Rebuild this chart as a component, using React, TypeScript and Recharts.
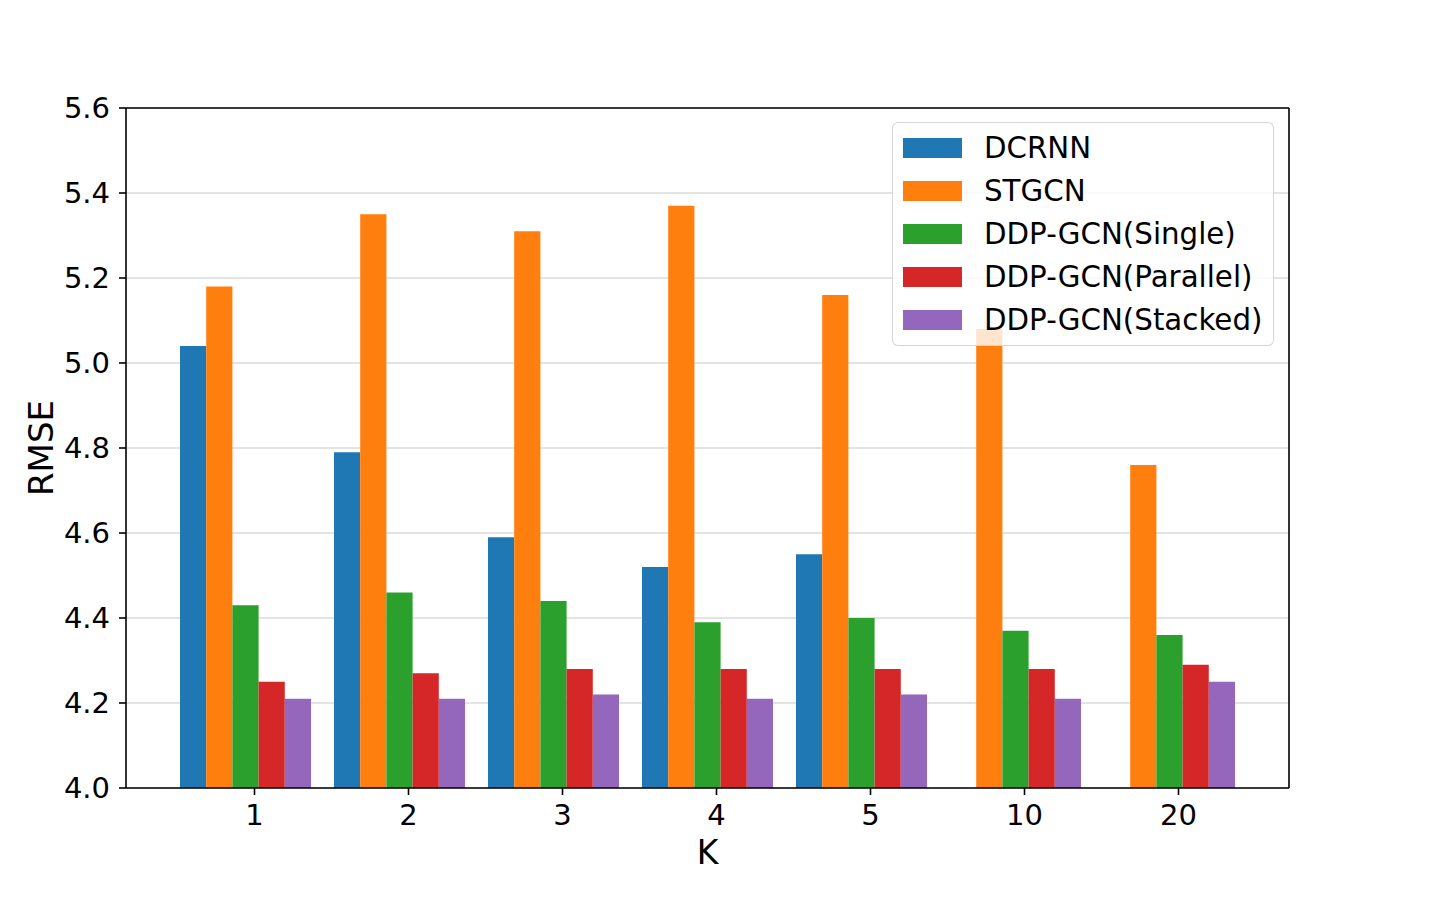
import {
  BarChart,
  Bar,
  XAxis,
  YAxis,
  CartesianGrid,
  Legend,
  Label,
} from "recharts";

const categories = ["1", "2", "3", "4", "5", "10", "20"];

const dcrnn = [5.04, 4.79, 4.59, 4.52, 4.55, null, null];
const stgcn = [5.18, 5.35, 5.31, 5.37, 5.16, 5.08, 4.76];
const ddpSingle = [4.43, 4.46, 4.44, 4.39, 4.4, 4.37, 4.36];
const ddpParallel = [4.25, 4.27, 4.28, 4.28, 4.28, 4.28, 4.29];
const ddpStacked = [4.21, 4.21, 4.22, 4.21, 4.22, 4.21, 4.25];

const yTicks = [4.0, 4.2, 4.4, 4.6, 4.8, 5.0, 5.2, 5.4, 5.6];

const series = [
  { key: "dcrnn", name: "DCRNN", values: dcrnn, color: "#1f77b4" },
  { key: "stgcn", name: "STGCN", values: stgcn, color: "#ff7f0e" },
  { key: "single", name: "DDP-GCN(Single)", values: ddpSingle, color: "#2ca02c" },
  { key: "parallel", name: "DDP-GCN(Parallel)", values: ddpParallel, color: "#d62728" },
  { key: "stacked", name: "DDP-GCN(Stacked)", values: ddpStacked, color: "#9467bd" },
];

const rows = categories.map((k, i) => {
  const row: Record<string, string | number | null> = { k };
  series.forEach((s) => {
    row[s.key] = s.values[i];
  });
  return row;
});

const FONT = "'DejaVu Sans', sans-serif";

// matplotlib puts the tick a bit right of the group centre
function XTick({ x, y, payload }: any) {
  const tx = x + 9.5;
  return (
    <g>
      <line x1={tx} x2={tx} y1={y} y2={y + 7} stroke="#000" strokeWidth={1.6} />
      <text
        x={tx}
        y={y + 37}
        textAnchor="middle"
        fontSize={29}
        fontFamily={FONT}
        fill="#000"
      >
        {payload.value}
      </text>
    </g>
  );
}

function YLabel({ viewBox }: any) {
  const cx = viewBox.x + 40.5;
  const cy = viewBox.y + viewBox.height / 2;
  return (
    <text
      x={cx}
      y={cy}
      transform={`rotate(-90 ${cx} ${cy})`}
      textAnchor="middle"
      dominantBaseline="central"
      fontSize={34}
      fontFamily={FONT}
      fill="#000"
    >
      RMSE
    </text>
  );
}

// keep the legend in series order, not the sorted payload order
function LegendBox() {
  return (
    <div
      style={{
        width: 382,
        height: 224,
        boxSizing: "border-box",
        border: "1.6px solid rgba(204,204,204,0.8)",
        borderRadius: 6,
        background: "rgba(255,255,255,0.8)",
        paddingTop: 3,
        fontFamily: FONT,
      }}
    >
      {series.map((s) => (
        <div
          key={s.key}
          style={{ height: 43, display: "flex", alignItems: "center" }}
        >
          <span
            style={{
              display: "inline-block",
              width: 59,
              height: 20,
              marginLeft: 10,
              background: s.color,
            }}
          />
          <span style={{ marginLeft: 22, fontSize: 29.3, color: "#000" }}>
            {s.name}
          </span>
        </div>
      ))}
    </div>
  );
}

export default function App() {
  return (
    <div
      style={{
        position: "absolute",
        left: 0,
        top: 0,
        width: 1439,
        height: 900,
        background: "#fff",
      }}
    >
      <BarChart
        width={1439}
        height={900}
        data={rows}
        margin={{ top: 107, right: 149, bottom: 0, left: 0 }}
        barGap={0}
        barSize={26.2}
      >
        <CartesianGrid vertical={false} stroke="#dadada" strokeWidth={1.6} />
        <XAxis
          dataKey="k"
          height={112}
          padding={{ left: 42, right: 43 }}
          axisLine={{ stroke: "#000", strokeWidth: 1.6 }}
          tickLine={false}
          tickSize={0}
          tickMargin={0}
          tick={<XTick />}
          interval={0}
        >
          <Label
            value="K"
            position="insideBottom"
            offset={36}
            fontSize={33}
            fontFamily={FONT}
            fill="#000"
          />
        </XAxis>
        <XAxis
          xAxisId="top"
          orientation="top"
          dataKey="k"
          height={1}
          tick={false}
          tickLine={false}
          axisLine={{ stroke: "#000", strokeWidth: 1.6 }}
        />
        <YAxis
          width={126}
          domain={[4, 5.6]}
          ticks={yTicks}
          tickFormatter={(v: number) => v.toFixed(1)}
          tickSize={7}
          tickMargin={9}
          tick={{ fontSize: 29, fontFamily: FONT, fill: "#000" }}
          tickLine={{ stroke: "#000", strokeWidth: 1.6 }}
          axisLine={{ stroke: "#000", strokeWidth: 1.6 }}
        >
          <Label content={<YLabel />} />
        </YAxis>
        <YAxis
          yAxisId="right"
          orientation="right"
          width={1}
          domain={[4, 5.6]}
          tick={false}
          tickLine={false}
          axisLine={{ stroke: "#000", strokeWidth: 1.6 }}
        />
        {series.map((s) => (
          <Bar
            key={s.key}
            dataKey={s.key}
            name={s.name}
            fill={s.color}
            isAnimationActive={false}
          />
        ))}
        <Legend
          layout="vertical"
          align="center"
          verticalAlign="middle"
          content={<LegendBox />}
          wrapperStyle={{ left: 892, top: 122, width: 382, height: 224 }}
        />
      </BarChart>
    </div>
  );
}
